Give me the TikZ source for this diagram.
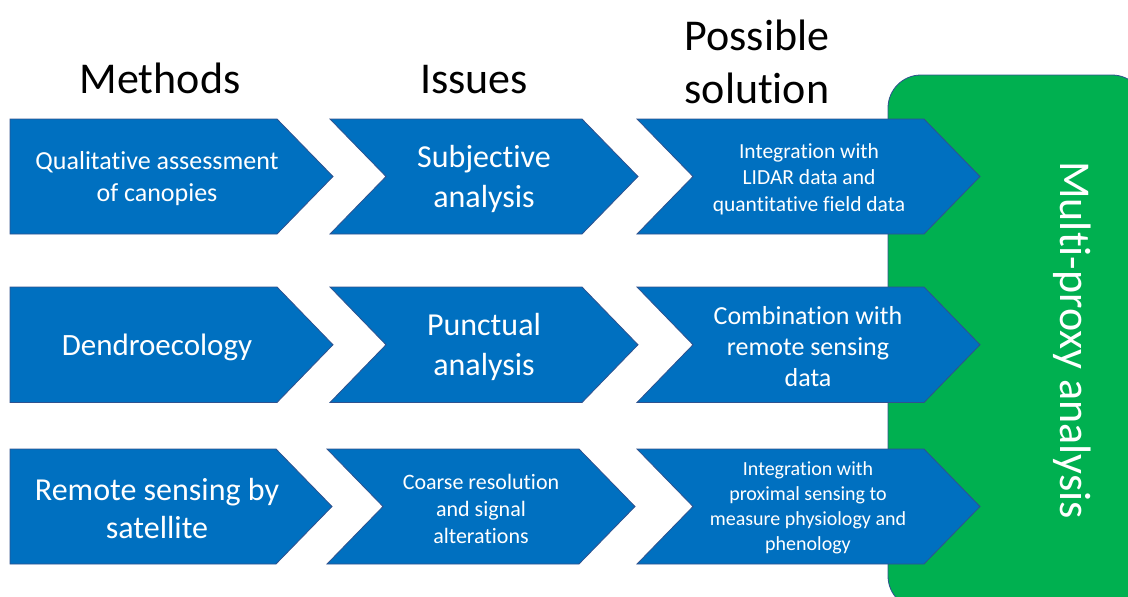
\documentclass[tikz,border=0pt]{standalone}
\usepackage{fontspec}
\setmainfont{Carlito}[Ligatures=NoCommon]
\definecolor{chevblue}{HTML}{0070C0}
\definecolor{chevline}{HTML}{2F528F}
\definecolor{proxygreen}{HTML}{00B050}

\begin{document}
\begin{tikzpicture}[x=1pt,y=-1pt,
  chev/.style={fill=chevblue, draw=chevline, line width=0.8pt, line join=miter},
  lbl/.style={text=white, align=center, inner sep=0pt},
  head/.style={font=\fontsize{44}{53}\selectfont, align=center, inner sep=0pt, anchor=base}]
\useasboundingbox (0,0) rectangle (1128,597);

% green summary panel, running off the right and bottom edges
\begin{scope}
  \clip (0,0) rectangle (1128,597);
  \path[fill=proxygreen, draw=chevline, line width=0.8pt, rounded corners=33pt]
    (888,75) rectangle (1145,609);
\end{scope}
\node[rotate=-90, anchor=base, text=white, inner sep=0pt,
      font=\fontsize{44}{53}\selectfont] (proxy) at (1060,340) {Multi-proxy analysis};

% column headings (base anchor sits on the last line)
\node[head] (hmeth) at (160,93) {Methods};
\node[head] (hiss) at (474,93) {Issues};
\node[head] (hsol) at (757,103) {Possible\\solution};

% row 1
\path[chev] (10,119) -- (277,119) -- (333,176.5) -- (277,234) -- (10,234) -- cycle;
\path[chev] (330,119) -- (582,119) -- (638,176.5) -- (582,234) -- (330,234) -- (386,176.5) -- cycle;
\path[chev] (637,119) -- (924,119) -- (980,176.5) -- (924,234) -- (637,234) -- (693,176.5) -- cycle;
\node[lbl, font=\fontsize{26}{32}\selectfont] (m1) at (157,179) {Qualitative assessment\\of canopies};
\node[lbl, font=\fontsize{32}{40}\selectfont] (i1) at (484,179) {Subjective\\analysis};
\node[lbl, font=\fontsize{21.5}{26.5}\selectfont] (s1) at (809,179) {Integration with\\LIDAR data and\\quantitative field data};

% row 2
\path[chev] (10,287) -- (277,287) -- (333,344.75) -- (277,402.5) -- (10,402.5) -- cycle;
\path[chev] (330,287) -- (582,287) -- (638,344.75) -- (582,402.5) -- (330,402.5) -- (386,344.75) -- cycle;
\path[chev] (637,287) -- (924,287) -- (980,344.75) -- (924,402.5) -- (637,402.5) -- (693,344.75) -- cycle;
\node[lbl, font=\fontsize{31}{38}\selectfont] (m2) at (157,347) {Dendroecology};
\node[lbl, font=\fontsize{32}{40}\selectfont] (i2) at (484,347) {Punctual\\analysis};
\node[lbl, font=\fontsize{26}{31}\selectfont] (s2) at (808,347) {Combination with\\remote sensing\\data};

% row 3
\path[chev] (10,449) -- (276,449) -- (332,506.5) -- (276,564) -- (10,564) -- cycle;
\path[chev] (327,449) -- (579,449) -- (635,506.5) -- (579,564) -- (327,564) -- (383,506.5) -- cycle;
\path[chev] (637,449) -- (924,449) -- (980,506.5) -- (924,564) -- (637,564) -- (693,506.5) -- cycle;
\node[lbl, font=\fontsize{32}{38}\selectfont] (m3) at (157,509) {Remote sensing by\\satellite};
\node[lbl, font=\fontsize{22}{27}\selectfont] (i3) at (481,509) {Coarse resolution\\and signal\\alterations};
\node[lbl, font=\fontsize{20}{25}\selectfont] (s3) at (808,508) {Integration with\\proximal sensing to\\measure physiology and\\phenology};
\end{tikzpicture}
\end{document}
